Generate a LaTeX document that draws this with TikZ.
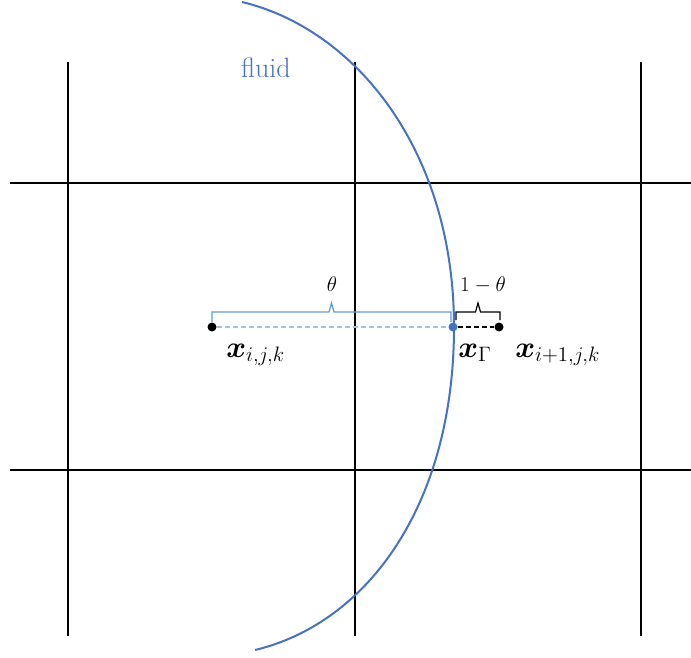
\documentclass[tikz,border=0pt]{standalone}
\usepackage{amsmath}
\usepackage{bm}
\definecolor{fluidblue}{HTML}{4472C4}
\definecolor{braceblue}{HTML}{5B9BD5}
\definecolor{lightblue}{HTML}{9DC3E6}
\begin{document}
\begin{tikzpicture}[x=1pt,y=-1pt,
  gridline/.style={line width=2pt,black},
  arcline/.style={line width=2pt,fluidblue},
  dot/.style={circle,fill=black,inner sep=0pt,minimum size=9pt},
  bluedot/.style={circle,fill=fluidblue,inner sep=0pt,minimum size=9pt},
  lbl/.style={inner sep=0pt,font=\fontsize{20}{24}\selectfont,scale=1.45,anchor=base west},
  smalllbl/.style={inner sep=0pt,font=\fontsize{17}{20}\selectfont,scale=1.22,anchor=base}]
\useasboundingbox (0,0) rectangle (691,658);
% grid
\foreach \x/\n in {68/a,355/b,641/c}{
  \coordinate (v\n t) at (\x,62);
  \coordinate (v\n b) at (\x,636);
  \draw[gridline] (v\n t) -- (v\n b);
}
\foreach \y/\n in {183/a,470/b}{
  \coordinate (h\n l) at (10,\y);
  \coordinate (h\n r) at (691,\y);
  \draw[gridline] (h\n l) -- (h\n r);
}
% fluid boundary
\coordinate (arctop) at (242,2);
\coordinate (arcmid) at (454,327);
\coordinate (arcbot) at (255,650);
\draw[arcline] (arctop) .. controls (355,29) and (454,150) .. (arcmid)
  .. controls (454,504) and (368,623) .. (arcbot);
\node[font=\fontsize{20}{24}\selectfont, text=fluidblue, scale=1.4, inner sep=0pt, anchor=base] (fluid) at (266,78) {fluid};
% points
\node[dot] (p1) at (212,327) {};
\node[bluedot] (pg) at (453,327) {};
\node[dot] (p2) at (499,327) {};
\draw[lightblue,line width=1.2pt,dash pattern=on 5pt off 3pt] (p1) -- (pg);
\draw[black,line width=1.2pt,dash pattern=on 5pt off 3pt] (pg) -- (p2);
% braces
\draw[braceblue,line width=1.2pt] (212,322) -- (212,312) -- (329,312) -- (331.5,303) -- (334,312) -- (451,312) -- (451,322);
\draw[black,line width=1.2pt] (456,320) -- (456,312) -- (475.5,312) -- (478,303) -- (480.5,312) -- (500,312) -- (500,320);
\node[smalllbl] (theta) at (332,291) {$\theta$};
\node[smalllbl] (omt) at (483,291) {$1-\theta$};
% labels
\node[lbl] (l1) at (226,357) {$\bm{x}_{i,j,k}$};
\node[lbl] (lg) at (458,357) {$\bm{x}_{\Gamma}$};
\node[lbl] (l2) at (515,357) {$\bm{x}_{i+1,j,k}$};
\end{tikzpicture}
\end{document}
